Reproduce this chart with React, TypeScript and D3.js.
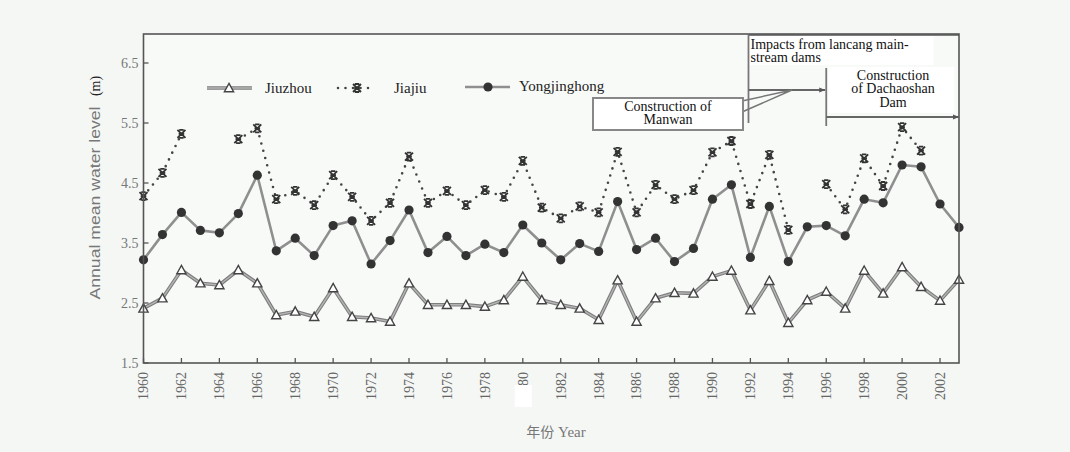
import React from "react";
import * as d3 from "d3";

const years: number[] = d3.range(1960, 2004);

const jiuzhou: number[] = [
  2.41, 2.58, 3.05, 2.83, 2.8, 3.05, 2.83, 2.3, 2.36, 2.27,
  2.75, 2.27, 2.25, 2.19, 2.83, 2.47, 2.47, 2.47, 2.44, 2.55,
  2.94, 2.55, 2.47, 2.41, 2.22, 2.88, 2.19, 2.58, 2.67, 2.66,
  2.94, 3.04, 2.38, 2.87, 2.17, 2.55, 2.69, 2.41, 3.04, 2.66,
  3.1, 2.77, 2.54, 2.89,
];

const jiajiu: (number | null)[] = [
  4.28, 4.67, 5.32, null, null, 5.23, 5.41, 4.23, 4.37, 4.13,
  4.63, 4.27, 3.87, 4.17, 4.94, 4.17, 4.37, 4.13, 4.38, 4.27,
  4.87, 4.09, 3.91, 4.11, 4.01, 5.02, 4.01, 4.47, 4.23, 4.38,
  5.01, 5.2, 4.15, 4.97, 3.72, null, 4.48, 4.06, 4.91, 4.45,
  5.43, 5.04, null, null,
];

const yongjinghong: number[] = [
  3.22, 3.64, 4.01, 3.71, 3.67, 3.99, 4.63, 3.37, 3.58, 3.29,
  3.79, 3.87, 3.15, 3.54, 4.05, 3.34, 3.61, 3.29, 3.48, 3.34,
  3.8, 3.5, 3.22, 3.49, 3.36, 4.19, 3.39, 3.58, 3.19, 3.41,
  4.23, 4.47, 3.26, 4.11, 3.19, 3.77, 3.79, 3.62, 4.23, 4.17,
  4.8, 4.77, 4.15, 3.76,
];

const yTicks: number[] = [1.5, 2.5, 3.5, 4.5, 5.5, 6.5];
const xTicks: number[] = d3.range(1960, 2003, 2);
const xTickLabels: string[] = xTicks.map((t) => (t === 1980 ? "80" : String(t)));

const seriesNames: string[] = ["Jiuzhou", "Jiajiu", "Yongjinghong"];

const W = 1070;
const H = 452;
const BG = "#f5f7f5";
const SERIF = "'Liberation Serif', 'DejaVu Serif', serif";
const SANS = "'Liberation Sans', Arial, sans-serif";

function starPath(cx: number, cy: number, r: number): string {
  const b = r * 0.55;
  return (
    `M${cx - r},${cy - r}L${cx + r},${cy + r}` +
    `M${cx + r},${cy - r}L${cx - r},${cy + r}` +
    `M${cx - b},${cy - r}L${cx + b},${cy - r}` +
    `M${cx - b},${cy + r}L${cx + b},${cy + r}` +
    `M${cx - r * 0.7},${cy}L${cx + r * 0.7},${cy}`
  );
}

function triPath(cx: number, cy: number, r: number): string {
  const h = r * 1.0;
  return `M${cx},${cy - h}L${cx + r},${cy + h * 0.8}L${cx - r},${cy + h * 0.8}Z`;
}

export default function App() {
  const x = d3.scaleLinear().domain([1960, 2003]).range([143.5, 959]);
  const y = d3.scaleLinear().domain([1.5, 7.0]).range([363, 33]);
  const left = x(1960);
  const right = x(2003);
  const top = 34;
  const bottom = y(1.5);

  const line = d3
    .line<number>()
    .x((_, i) => x(years[i]))
    .y((d) => y(d));

  const lineJ = d3
    .line<number | null>()
    .defined((d) => d !== null)
    .x((_, i) => x(years[i]))
    .y((d) => y(d as number));

  const jiuzhouPath = line(jiuzhou) || "";
  const yjhPath = line(yongjinghong) || "";
  const jiajiuPath = lineJ(jiajiu) || "";

  const legendY = 88;

  const x1992 = x(1991.9);
  const x1996 = x(1996);

  return (
    <svg
      width={W}
      height={H}
      style={{ position: "fixed", left: 0, top: 0, background: BG }}
      xmlns="http://www.w3.org/2000/svg"
    >
      <defs>
        <marker id="arr" viewBox="0 0 10 10" refX="10" refY="5" markerWidth="7" markerHeight="6" orient="auto" markerUnits="userSpaceOnUse">
          <path d="M0,1 L10,5 L0,9 Z" fill="#555" />
        </marker>
      </defs>
      <rect x={0} y={0} width={W} height={H} fill={BG} />
      <rect x={left} y={top} width={right - left} height={bottom - top} fill="#f8faf8" />

      {/* Series: Jiuzhou */}
      <path d={jiuzhouPath} fill="none" stroke="#7d7d7d" strokeWidth={3.6} strokeLinejoin="round" />
      <path d={jiuzhouPath} fill="none" stroke="#b4b4b4" strokeWidth={1.4} strokeLinejoin="round" />
      {/* Series: Yongjinghong */}
      <path d={yjhPath} fill="none" stroke="#8f8f8f" strokeWidth={2.6} strokeLinejoin="round" />
      {/* Series: Jiajiu */}
      <path d={jiajiuPath} fill="none" stroke="#444" strokeWidth={2.6} strokeDasharray="0 7.5" strokeLinecap="round" />

      {jiuzhou.map((v, i) => (
        <path key={"t" + i} d={triPath(x(years[i]), y(v), 4.6)} fill="#fff" stroke="#444" strokeWidth={1.4} />
      ))}
      {yongjinghong.map((v, i) => (
        <circle key={"c" + i} cx={x(years[i])} cy={y(v)} r={4.6} fill="#333" />
      ))}
      {jiajiu.map((v, i) =>
        v === null ? null : (
          <path key={"s" + i} d={starPath(x(years[i]), y(v), 4)} fill="none" stroke="#333" strokeWidth={1.8} />
        )
      )}

      {/* Frame */}
      <rect x={left} y={top} width={right - left} height={bottom - top} fill="none" stroke="#555" strokeWidth={1.6} />

      {/* Y ticks */}
      {yTicks.map((t) => (
        <g key={"yt" + t}>
          <line x1={left} x2={left + 5} y1={y(t)} y2={y(t)} stroke="#555" strokeWidth={1.3} />
          <text x={left - 5} y={y(t)} dy="0.35em" textAnchor="end" fontFamily={SERIF} fontSize={14} fill="#777">
            {t.toFixed(1)}
          </text>
        </g>
      ))}

      {/* X ticks */}
      {xTicks.map((t, i) => (
        <g key={"xt" + t}>
          <line x1={x(t)} x2={x(t)} y1={bottom} y2={bottom - 5} stroke="#555" strokeWidth={1.3} />
          <text
            transform={`translate(${x(t)},${bottom + 9}) rotate(-90)`}
            dy="0.35em"
            textAnchor="end"
            fontFamily={SERIF}
            fontSize={14}
            fill="#666"
          >
            {xTickLabels[i]}
          </text>
        </g>
      ))}
      <rect x={x(1980) - 8} y={bottom + 22} width={17} height={22} fill="#ffffff" />

      {/* Axis titles */}
      <text x={556} y={437} textAnchor="middle" fontSize={15} fill="#777">
        <tspan fontFamily="'Noto Sans CJK SC', sans-serif" fontSize={14}>年份</tspan>
        <tspan fontFamily={SERIF}> Year</tspan>
      </text>
      <text
        transform="translate(100,203) rotate(-90)"
        textAnchor="middle"
        fontFamily={SANS}
        fontSize={14}
        fill="#777"
        textLength={193}
        lengthAdjust="spacingAndGlyphs"
      >
        Annual mean water level
      </text>
      <text transform="translate(100,86) rotate(-90)" textAnchor="middle" fontFamily={SERIF} fontSize={14} fill="#222">
        (m)
      </text>

      {/* Legend */}
      <line x1={207} x2={252} y1={legendY} y2={legendY} stroke="#7d7d7d" strokeWidth={3.4} />
      <line x1={207} x2={252} y1={legendY} y2={legendY} stroke="#b4b4b4" strokeWidth={1.3} />
      <path d={triPath(229, legendY, 4.6)} fill="#fff" stroke="#444" strokeWidth={1.4} />
      <text x={265} y={legendY} dy="0.35em" fontFamily={SERIF} fontSize={15} fill="#222">
        {seriesNames[0]}
      </text>
      <line x1={338} x2={372} y1={legendY} y2={legendY} stroke="#444" strokeWidth={2.6} strokeDasharray="0 7.5" strokeLinecap="round" />
      <path d={starPath(357, legendY, 4)} fill="none" stroke="#333" strokeWidth={1.8} />
      <text x={394} y={legendY} dy="0.35em" fontFamily={SERIF} fontSize={15} fill="#222">
        {seriesNames[1]}
      </text>
      <line x1={465} x2={510} y1={legendY - 1} y2={legendY - 1} stroke="#8f8f8f" strokeWidth={2.6} />
      <circle cx={488} cy={legendY - 1} r={4.6} fill="#333" />
      <text x={519} y={legendY - 2} dy="0.35em" fontFamily={SERIF} fontSize={15} fill="#222">
        {seriesNames[2]}
      </text>

      {/* Annotation: Impacts from lancang main-stream dams */}
      <rect x={x1992} y={36} width={185} height={29} fill="#ffffff" />
      <line x1={x1992} x2={right} y1={35} y2={35} stroke="#555" strokeWidth={1.6} />
      <line x1={x1992} x2={x1992} y1={35} y2={123} stroke="#777" strokeWidth={1.8} />
      <text x={x1992 + 2} y={49} fontFamily={SERIF} fontSize={14} fill="#111">
        Impacts from lancang main-
      </text>
      <text x={x1992 + 2} y={62} fontFamily={SERIF} fontSize={14} fill="#111">
        stream dams
      </text>
      <line x1={x1992} x2={x1996 - 1} y1={90} y2={90} stroke="#666" strokeWidth={1.8} markerEnd="url(#arr)" />

      {/* Annotation: Construction of Manwan */}
      <path d={`M742,101 L792,90 L742,112`} fill="none" stroke="#777" strokeWidth={1.5} />
      <rect x={593} y={98} width={150} height={32} fill="#ffffff" stroke="#888" strokeWidth={2} />
      <text x={668} y={111} textAnchor="middle" fontFamily={SERIF} fontSize={14} fill="#111">
        Construction of
      </text>
      <text x={668} y={124} textAnchor="middle" fontFamily={SERIF} fontSize={14} fill="#111">
        Manwan
      </text>

      {/* Annotation: Construction of Dachaoshan Dam */}
      <rect x={x1996 + 2} y={67} width={126} height={46} fill="#ffffff" />
      <line x1={x1996} x2={x1996} y1={68} y2={126} stroke="#777" strokeWidth={1.8} />
      <line x1={x1996} x2={right} y1={117} y2={117} stroke="#666" strokeWidth={1.8} markerEnd="url(#arr)" />
      <text x={893} y={80} textAnchor="middle" fontFamily={SERIF} fontSize={14} fill="#111">
        Construction
      </text>
      <text x={893} y={93} textAnchor="middle" fontFamily={SERIF} fontSize={14} fill="#111">
        of Dachaoshan
      </text>
      <text x={893} y={107} textAnchor="middle" fontFamily={SERIF} fontSize={14} fill="#111">
        Dam
      </text>
    </svg>
  );
}
